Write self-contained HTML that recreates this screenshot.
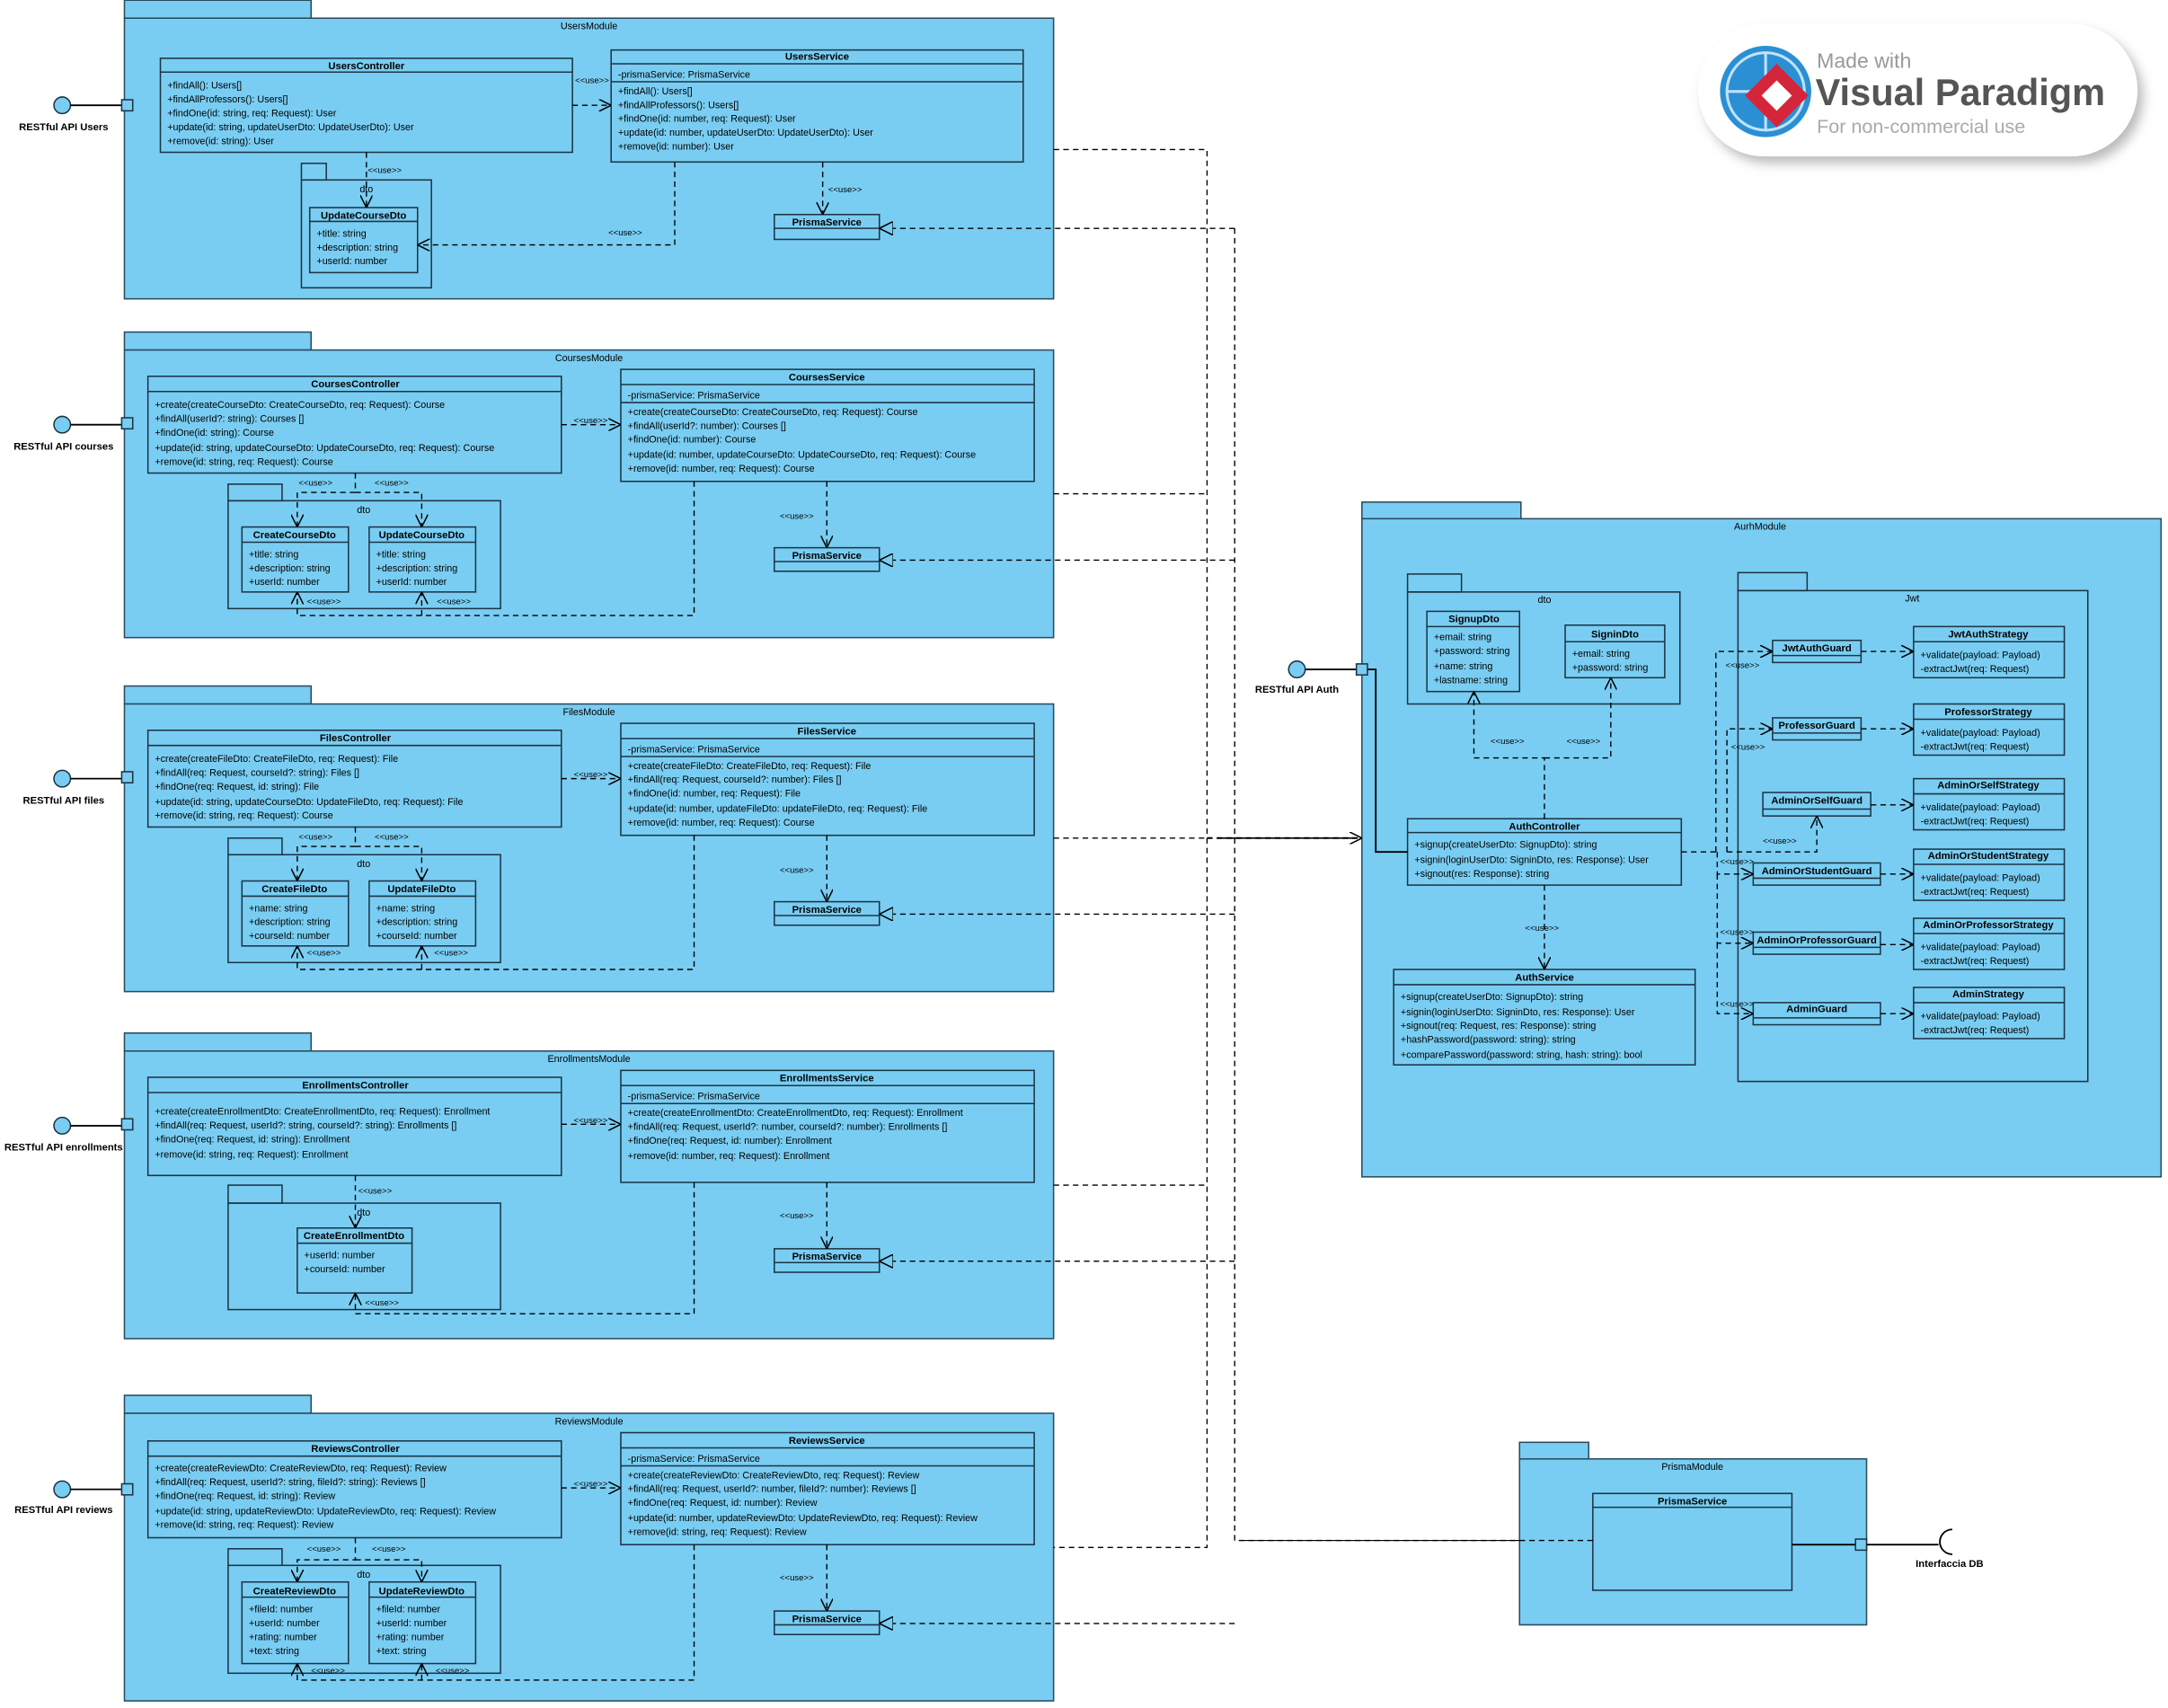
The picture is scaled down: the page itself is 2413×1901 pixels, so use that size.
<!DOCTYPE html>
<html><head><meta charset="utf-8"><style>
html,body{margin:0;padding:0;background:#fff;}
svg{display:block;}
text{font-family:"Liberation Sans",sans-serif;font-size:7px;fill:#000;}
.b{font-weight:bold;font-size:7.3px;}
.m{text-anchor:middle;}
.pk{fill:#79cdf2;stroke:#2a4a5e;stroke-width:1;}
.bx{fill:#79cdf2;stroke:#1d3444;stroke-width:1;}
.ln{stroke:#1d3444;stroke-width:1;fill:none;}
.d{stroke:#000;stroke-width:0.9;fill:none;stroke-dasharray:4,3;}
.s{stroke:#000;stroke-width:1.2;fill:none;}
.u{font-size:6.2px;}
</style></head><body>
<svg width="2413" height="1901" viewBox="0 0 1568 1235" xmlns="http://www.w3.org/2000/svg">
<defs>
<marker id="oa" viewBox="0 0 10 10" refX="10" refY="5" markerWidth="9" markerHeight="9" orient="auto" markerUnits="userSpaceOnUse"><path d="M0,0L10,5L0,10" fill="none" stroke="#000" stroke-width="1.1"/></marker>
<marker id="tri" viewBox="0 0 10 10" refX="10" refY="5" markerWidth="10" markerHeight="10" orient="auto" markerUnits="userSpaceOnUse"><path d="M0,0L10,5L0,10z" fill="#79cdf2" stroke="#000" stroke-width="1"/></marker>
<filter id="sh" x="-10%" y="-10%" width="120%" height="130%"><feGaussianBlur stdDeviation="4"/></filter>
</defs>

<!-- ========== USERS MODULE ========== -->
<rect class="pk" x="90" y="0" width="135" height="13"/>
<rect class="pk" x="90" y="13" width="672" height="203"/>
<text class="m" x="426" y="21">UsersModule</text>
<rect class="bx" x="116" y="42" width="298" height="68"/><line class="ln" x1="116" y1="52" x2="414" y2="52"/>
<text class="b m" x="265" y="50">UsersController</text>
<text x="121" y="64">+findAll(): Users[]</text>
<text x="121" y="74">+findAllProfessors(): Users[]</text>
<text x="121" y="84">+findOne(id: string, req: Request): User</text>
<text x="121" y="94">+update(id: string, updateUserDto: UpdateUserDto): User</text>
<text x="121" y="104">+remove(id: string): User</text>
<rect class="bx" x="442" y="36" width="298" height="81"/><line class="ln" x1="442" y1="46" x2="740" y2="46"/><line class="ln" x1="442" y1="59" x2="740" y2="59"/>
<text class="b m" x="591" y="43">UsersService</text>
<text x="447" y="56">-prismaService: PrismaService</text>
<text x="447" y="68">+findAll(): Users[]</text>
<text x="447" y="78">+findAllProfessors(): Users[]</text>
<text x="447" y="88">+findOne(id: number, req: Request): User</text>
<text x="447" y="98">+update(id: number, updateUserDto: UpdateUserDto): User</text>
<text x="447" y="108">+remove(id: number): User</text>
<rect class="ln" x="218" y="118" width="18" height="12"/>
<rect class="ln" x="218" y="130" width="94" height="78"/>
<text class="m" x="265" y="139">dto</text>
<rect class="bx" x="224" y="150" width="78" height="47"/><line class="ln" x1="224" y1="160" x2="302" y2="160"/>
<text class="b m" x="263" y="158">UpdateCourseDto</text>
<text x="229" y="171">+title: string</text>
<text x="229" y="181">+description: string</text>
<text x="229" y="191">+userId: number</text>
<rect class="bx" x="560" y="155" width="76" height="18"/><line class="ln" x1="560" y1="165" x2="636" y2="165"/>
<text class="b m" x="598" y="163">PrismaService</text>
<path class="d" d="M414,76H442" marker-end="url(#oa)"/><text class="u" x="416" y="60">&lt;&lt;use&gt;&gt;</text>
<path class="d" d="M265,110V150" marker-end="url(#oa)"/><text class="u" x="266" y="125">&lt;&lt;use&gt;&gt;</text>
<path class="d" d="M488,117V177H302" marker-end="url(#oa)"/><text class="u" x="440" y="170">&lt;&lt;use&gt;&gt;</text>
<path class="d" d="M595,117V155" marker-end="url(#oa)"/><text class="u" x="599" y="139">&lt;&lt;use&gt;&gt;</text>
<circle cx="45" cy="76" r="6" fill="#79cdf2" stroke="#1d3444"/>
<line class="s" x1="51" y1="76" x2="88" y2="76"/><rect class="bx" x="88" y="72" width="8" height="8"/>
<text class="b m" x="46" y="94">RESTful API Users</text>

<!-- ========== COURSES MODULE ========== -->
<g>
<rect class="pk" x="90" y="240" width="135" height="13"/>
<rect class="pk" x="90" y="253" width="672" height="208"/>
<text class="m" x="426" y="261">CoursesModule</text>
<rect class="bx" x="107" y="272" width="299" height="70"/><line class="ln" x1="107" y1="283" x2="406" y2="283"/>
<text class="b m" x="257" y="280">CoursesController</text>
<text x="112" y="295">+create(createCourseDto: CreateCourseDto, req: Request): Course</text>
<text x="112" y="305">+findAll(userId?: string): Courses []</text>
<text x="112" y="315">+findOne(id: string): Course</text>
<text x="112" y="326">+update(id: string, updateCourseDto: UpdateCourseDto, req: Request): Course</text>
<text x="112" y="336">+remove(id: string, req: Request): Course</text>
<rect class="bx" x="449" y="267" width="299" height="81"/><line class="ln" x1="449" y1="278" x2="748" y2="278"/><line class="ln" x1="449" y1="291" x2="748" y2="291"/>
<text class="b m" x="598" y="275">CoursesService</text>
<text x="454" y="288">-prismaService: PrismaService</text>
<text x="454" y="300">+create(createCourseDto: CreateCourseDto, req: Request): Course</text>
<text x="454" y="310">+findAll(userId?: number): Courses []</text>
<text x="454" y="320">+findOne(id: number): Course</text>
<text x="454" y="331">+update(id: number, updateCourseDto: UpdateCourseDto, req: Request): Course</text>
<text x="454" y="341">+remove(id: number, req: Request): Course</text>
<rect class="ln" x="165" y="350" width="39" height="12"/>
<rect class="ln" x="165" y="362" width="197" height="78"/>
<text class="m" x="263" y="371">dto</text>
<rect class="bx" x="175" y="381" width="77" height="47"/><line class="ln" x1="175" y1="392" x2="252" y2="392"/>
<text class="b m" x="213" y="389">CreateCourseDto</text>
<text x="180" y="403">+title: string</text><text x="180" y="413">+description: string</text><text x="180" y="423">+userId: number</text>
<rect class="bx" x="267" y="381" width="77" height="47"/><line class="ln" x1="267" y1="392" x2="344" y2="392"/>
<text class="b m" x="305" y="389">UpdateCourseDto</text>
<text x="272" y="403">+title: string</text><text x="272" y="413">+description: string</text><text x="272" y="423">+userId: number</text>
<rect class="bx" x="560" y="396" width="76" height="17"/><line class="ln" x1="560" y1="406" x2="636" y2="406"/>
<text class="b m" x="598" y="404">PrismaService</text>
<path class="d" d="M406,307H449" marker-end="url(#oa)"/><text class="u" x="415" y="306">&lt;&lt;use&gt;&gt;</text>
<path class="d" d="M257,342V356H215V381" marker-end="url(#oa)"/>
<path class="d" d="M257,356H305V381" marker-end="url(#oa)"/>
<text class="u" x="216" y="351">&lt;&lt;use&gt;&gt;</text><text class="u" x="271" y="351">&lt;&lt;use&gt;&gt;</text>
<path class="d" d="M502,348V445H215V428" marker-end="url(#oa)"/>
<path class="d" d="M305,445V428" marker-end="url(#oa)"/>
<text class="u" x="222" y="437">&lt;&lt;use&gt;&gt;</text><text class="u" x="316" y="437">&lt;&lt;use&gt;&gt;</text>
<path class="d" d="M598,348V396" marker-end="url(#oa)"/><text class="u" x="564" y="375">&lt;&lt;use&gt;&gt;</text>
<circle cx="45" cy="307" r="6" fill="#79cdf2" stroke="#1d3444"/>
<line class="s" x1="51" y1="307" x2="88" y2="307"/><rect class="bx" x="88" y="302" width="8" height="8"/>
<text class="b m" x="46" y="325">RESTful API courses</text>
</g>

<!-- ========== FILES MODULE ========== -->
<g transform="translate(0,256)">
<rect class="pk" x="90" y="240" width="135" height="13"/>
<rect class="pk" x="90" y="253" width="672" height="208"/>
<text class="m" x="426" y="261">FilesModule</text>
<rect class="bx" x="107" y="272" width="299" height="70"/><line class="ln" x1="107" y1="283" x2="406" y2="283"/>
<text class="b m" x="257" y="280">FilesController</text>
<text x="112" y="295">+create(createFileDto: CreateFileDto, req: Request): File</text>
<text x="112" y="305">+findAll(req: Request, courseId?: string): Files []</text>
<text x="112" y="315">+findOne(req: Request, id: string): File</text>
<text x="112" y="326">+update(id: string, updateCourseDto: UpdateFileDto, req: Request): File</text>
<text x="112" y="336">+remove(id: string, req: Request): Course</text>
<rect class="bx" x="449" y="267" width="299" height="81"/><line class="ln" x1="449" y1="278" x2="748" y2="278"/><line class="ln" x1="449" y1="291" x2="748" y2="291"/>
<text class="b m" x="598" y="275">FilesService</text>
<text x="454" y="288">-prismaService: PrismaService</text>
<text x="454" y="300">+create(createFileDto: CreateFileDto, req: Request): File</text>
<text x="454" y="310">+findAll(req: Request, courseId?: number): Files []</text>
<text x="454" y="320">+findOne(id: number, req: Request): File</text>
<text x="454" y="331">+update(id: number, updateFileDto: updateFileDto, req: Request): File</text>
<text x="454" y="341">+remove(id: number, req: Request): Course</text>
<rect class="ln" x="165" y="350" width="39" height="12"/>
<rect class="ln" x="165" y="362" width="197" height="78"/>
<text class="m" x="263" y="371">dto</text>
<rect class="bx" x="175" y="381" width="77" height="47"/><line class="ln" x1="175" y1="392" x2="252" y2="392"/>
<text class="b m" x="213" y="389">CreateFileDto</text>
<text x="180" y="403">+name: string</text><text x="180" y="413">+description: string</text><text x="180" y="423">+courseId: number</text>
<rect class="bx" x="267" y="381" width="77" height="47"/><line class="ln" x1="267" y1="392" x2="344" y2="392"/>
<text class="b m" x="305" y="389">UpdateFileDto</text>
<text x="272" y="403">+name: string</text><text x="272" y="413">+description: string</text><text x="272" y="423">+courseId: number</text>
<rect class="bx" x="560" y="396" width="76" height="17"/><line class="ln" x1="560" y1="406" x2="636" y2="406"/>
<text class="b m" x="598" y="404">PrismaService</text>
<path class="d" d="M406,307H449" marker-end="url(#oa)"/><text class="u" x="415" y="306">&lt;&lt;use&gt;&gt;</text>
<path class="d" d="M257,342V356H215V381" marker-end="url(#oa)"/>
<path class="d" d="M257,356H305V381" marker-end="url(#oa)"/>
<text class="u" x="216" y="351">&lt;&lt;use&gt;&gt;</text><text class="u" x="271" y="351">&lt;&lt;use&gt;&gt;</text>
<path class="d" d="M502,348V445H215V428" marker-end="url(#oa)"/>
<path class="d" d="M305,445V428" marker-end="url(#oa)"/>
<text class="u" x="222" y="435">&lt;&lt;use&gt;&gt;</text><text class="u" x="314" y="435">&lt;&lt;use&gt;&gt;</text>
<path class="d" d="M598,348V396" marker-end="url(#oa)"/><text class="u" x="564" y="375">&lt;&lt;use&gt;&gt;</text>
<circle cx="45" cy="307" r="6" fill="#79cdf2" stroke="#1d3444"/>
<line class="s" x1="51" y1="307" x2="88" y2="307"/><rect class="bx" x="88" y="302" width="8" height="8"/>
<text class="b m" x="46" y="325">RESTful API files</text>
</g>

<!-- ========== ENROLLMENTS MODULE ========== -->
<g transform="translate(0,507)">
<rect class="pk" x="90" y="240" width="135" height="13"/>
<rect class="pk" x="90" y="253" width="672" height="208"/>
<text class="m" x="426" y="261">EnrollmentsModule</text>
<rect class="bx" x="107" y="272" width="299" height="71"/><line class="ln" x1="107" y1="283" x2="406" y2="283"/>
<text class="b m" x="257" y="280">EnrollmentsController</text>
<text x="112" y="299">+create(createEnrollmentDto: CreateEnrollmentDto, req: Request): Enrollment</text>
<text x="112" y="309">+findAll(req: Request, userId?: string, courseId?: string): Enrollments []</text>
<text x="112" y="319">+findOne(req: Request, id: string): Enrollment</text>
<text x="112" y="330">+remove(id: string, req: Request): Enrollment</text>
<rect class="bx" x="449" y="267" width="299" height="81"/><line class="ln" x1="449" y1="278" x2="748" y2="278"/><line class="ln" x1="449" y1="291" x2="748" y2="291"/>
<text class="b m" x="598" y="275">EnrollmentsService</text>
<text x="454" y="288">-prismaService: PrismaService</text>
<text x="454" y="300">+create(createEnrollmentDto: CreateEnrollmentDto, req: Request): Enrollment</text>
<text x="454" y="310">+findAll(req: Request, userId?: number, courseId?: number): Enrollments []</text>
<text x="454" y="320">+findOne(req: Request, id: number): Enrollment</text>
<text x="454" y="331">+remove(id: number, req: Request): Enrollment</text>
<rect class="ln" x="165" y="350" width="39" height="13"/>
<rect class="ln" x="165" y="363" width="197" height="77"/>
<text class="m" x="263" y="372">dto</text>
<rect class="bx" x="215" y="381" width="83" height="47"/><line class="ln" x1="215" y1="392" x2="298" y2="392"/>
<text class="b m" x="256" y="389">CreateEnrollmentDto</text>
<text x="220" y="403">+userId: number</text><text x="220" y="413">+courseId: number</text>
<rect class="bx" x="560" y="396" width="76" height="17"/><line class="ln" x1="560" y1="406" x2="636" y2="406"/>
<text class="b m" x="598" y="404">PrismaService</text>
<path class="d" d="M406,306H449" marker-end="url(#oa)"/><text class="u" x="415" y="305">&lt;&lt;use&gt;&gt;</text>
<path class="d" d="M257,343V381" marker-end="url(#oa)"/><text class="u" x="259" y="356">&lt;&lt;use&gt;&gt;</text>
<path class="d" d="M502,348V443H257V428" marker-end="url(#oa)"/><text class="u" x="264" y="437">&lt;&lt;use&gt;&gt;</text>
<path class="d" d="M598,348V396" marker-end="url(#oa)"/><text class="u" x="564" y="374">&lt;&lt;use&gt;&gt;</text>
<circle cx="45" cy="307" r="6" fill="#79cdf2" stroke="#1d3444"/>
<line class="s" x1="51" y1="307" x2="88" y2="307"/><rect class="bx" x="88" y="302" width="8" height="8"/>
<text class="b m" x="46" y="325">RESTful API enrollments</text>
</g>

<!-- ========== REVIEWS MODULE ========== -->
<g transform="translate(0,769)">
<rect class="pk" x="90" y="240" width="135" height="13"/>
<rect class="pk" x="90" y="253" width="672" height="208"/>
<text class="m" x="426" y="261">ReviewsModule</text>
<rect class="bx" x="107" y="273" width="299" height="70"/><line class="ln" x1="107" y1="284" x2="406" y2="284"/>
<text class="b m" x="257" y="281">ReviewsController</text>
<text x="112" y="295">+create(createReviewDto: CreateReviewDto, req: Request): Review</text>
<text x="112" y="305">+findAll(req: Request, userId?: string, fileId?: string): Reviews []</text>
<text x="112" y="315">+findOne(req: Request, id: string): Review</text>
<text x="112" y="326">+update(id: string, updateReviewDto: UpdateReviewDto, req: Request): Review</text>
<text x="112" y="336">+remove(id: string, req: Request): Review</text>
<rect class="bx" x="449" y="267" width="299" height="81"/><line class="ln" x1="449" y1="278" x2="748" y2="278"/><line class="ln" x1="449" y1="291" x2="748" y2="291"/>
<text class="b m" x="598" y="275">ReviewsService</text>
<text x="454" y="288">-prismaService: PrismaService</text>
<text x="454" y="300">+create(createReviewDto: CreateReviewDto, req: Request): Review</text>
<text x="454" y="310">+findAll(req: Request, userId?: number, fileId?: number): Reviews []</text>
<text x="454" y="320">+findOne(req: Request, id: number): Review</text>
<text x="454" y="331">+update(id: number, updateReviewDto: UpdateReviewDto, req: Request): Review</text>
<text x="454" y="341">+remove(id: string, req: Request): Review</text>
<rect class="ln" x="165" y="351" width="39" height="12"/>
<rect class="ln" x="165" y="363" width="197" height="78"/>
<text class="m" x="263" y="372">dto</text>
<rect class="bx" x="175" y="375" width="77" height="59"/><line class="ln" x1="175" y1="386" x2="252" y2="386"/>
<text class="b m" x="213" y="384">CreateReviewDto</text>
<text x="180" y="397">+fileId: number</text><text x="180" y="407">+userId: number</text><text x="180" y="417">+rating: number</text><text x="180" y="427">+text: string</text>
<rect class="bx" x="267" y="375" width="77" height="59"/><line class="ln" x1="267" y1="386" x2="344" y2="386"/>
<text class="b m" x="305" y="384">UpdateReviewDto</text>
<text x="272" y="397">+fileId: number</text><text x="272" y="407">+userId: number</text><text x="272" y="417">+rating: number</text><text x="272" y="427">+text: string</text>
<rect class="bx" x="560" y="396" width="76" height="17"/><line class="ln" x1="560" y1="406" x2="636" y2="406"/>
<text class="b m" x="598" y="404">PrismaService</text>
<path class="d" d="M406,307H449" marker-end="url(#oa)"/><text class="u" x="415" y="306">&lt;&lt;use&gt;&gt;</text>
<path class="d" d="M257,343V359H215V375" marker-end="url(#oa)"/>
<path class="d" d="M257,359H305V375" marker-end="url(#oa)"/>
<text class="u" x="222" y="353">&lt;&lt;use&gt;&gt;</text><text class="u" x="269" y="353">&lt;&lt;use&gt;&gt;</text>
<path class="d" d="M502,348V446H215V434" marker-end="url(#oa)"/>
<path class="d" d="M305,446V434" marker-end="url(#oa)"/>
<text class="u" x="225" y="441">&lt;&lt;use&gt;&gt;</text><text class="u" x="315" y="441">&lt;&lt;use&gt;&gt;</text>
<path class="d" d="M598,348V396" marker-end="url(#oa)"/><text class="u" x="564" y="374">&lt;&lt;use&gt;&gt;</text>
<circle cx="45" cy="308" r="6" fill="#79cdf2" stroke="#1d3444"/>
<line class="s" x1="51" y1="308" x2="88" y2="308"/><rect class="bx" x="88" y="304" width="8" height="8"/>
<text class="b m" x="46" y="325">RESTful API reviews</text>
</g>

<!-- ========== AUTH MODULE ========== -->
<rect class="pk" x="985" y="363" width="115" height="12"/>
<rect class="pk" x="985" y="375" width="578" height="476"/>
<text class="m" x="1273" y="383">AurhModule</text>
<rect class="ln" x="1018" y="415" width="39" height="13"/>
<rect class="ln" x="1018" y="428" width="197" height="81"/>
<text class="m" x="1117" y="436">dto</text>
<rect class="bx" x="1032" y="442" width="67" height="58"/><line class="ln" x1="1032" y1="453" x2="1099" y2="453"/>
<text class="b m" x="1066" y="450">SignupDto</text>
<text x="1037" y="463">+email: string</text><text x="1037" y="473">+password: string</text><text x="1037" y="484">+name: string</text><text x="1037" y="494">+lastname: string</text>
<rect class="bx" x="1132" y="452" width="72" height="38"/><line class="ln" x1="1132" y1="464" x2="1204" y2="464"/>
<text class="b m" x="1168" y="461">SigninDto</text>
<text x="1137" y="475">+email: string</text><text x="1137" y="485">+password: string</text>

<rect class="ln" x="1257" y="414" width="50" height="13"/>
<rect class="ln" x="1257" y="427" width="253" height="355"/>
<text class="m" x="1383" y="435">Jwt</text>

<rect class="bx" x="1018" y="592" width="198" height="48"/><line class="ln" x1="1018" y1="602" x2="1216" y2="602"/>
<text class="b m" x="1117" y="600">AuthController</text>
<text x="1023" y="613">+signup(createUserDto: SignupDto): string</text>
<text x="1023" y="624">+signin(loginUserDto: SigninDto, res: Response): User</text>
<text x="1023" y="634">+signout(res: Response): string</text>

<rect class="bx" x="1008" y="701" width="218" height="69"/><line class="ln" x1="1008" y1="712" x2="1226" y2="712"/>
<text class="b m" x="1117" y="709">AuthService</text>
<text x="1013" y="723">+signup(createUserDto: SignupDto): string</text>
<text x="1013" y="734">+signin(loginUserDto: SigninDto, res: Response): User</text>
<text x="1013" y="744">+signout(req: Request, res: Response): string</text>
<text x="1013" y="754">+hashPassword(password: string): string</text>
<text x="1013" y="765">+comparePassword(password: string, hash: string): bool</text>

<!-- guards -->
<rect class="bx" x="1282" y="463" width="64" height="16"/><line class="ln" x1="1282" y1="474" x2="1346" y2="474"/><text class="b m" x="1314" y="471">JwtAuthGuard</text>
<rect class="bx" x="1282" y="519" width="64" height="16"/><line class="ln" x1="1282" y1="530" x2="1346" y2="530"/><text class="b m" x="1314" y="527">ProfessorGuard</text>
<rect class="bx" x="1275" y="573" width="78" height="17"/><line class="ln" x1="1275" y1="585" x2="1353" y2="585"/><text class="b m" x="1314" y="581">AdminOrSelfGuard</text>
<rect class="bx" x="1268" y="624" width="92" height="16"/><line class="ln" x1="1268" y1="635" x2="1360" y2="635"/><text class="b m" x="1314" y="632">AdminOrStudentGuard</text>
<rect class="bx" x="1268" y="674" width="92" height="16"/><line class="ln" x1="1268" y1="685" x2="1360" y2="685"/><text class="b m" x="1314" y="682">AdminOrProfessorGuard</text>
<rect class="bx" x="1268" y="725" width="92" height="16"/><line class="ln" x1="1268" y1="736" x2="1360" y2="736"/><text class="b m" x="1314" y="732">AdminGuard</text>
<!-- strategies -->
<g>
<rect class="bx" x="1384" y="453" width="109" height="37"/><line class="ln" x1="1384" y1="464" x2="1493" y2="464"/><text class="b m" x="1438" y="461">JwtAuthStrategy</text>
<text x="1389" y="476">+validate(payload: Payload)</text><text x="1389" y="486">-extractJwt(req: Request)</text>
<rect class="bx" x="1384" y="509" width="109" height="37"/><line class="ln" x1="1384" y1="520" x2="1493" y2="520"/><text class="b m" x="1438" y="517">ProfessorStrategy</text>
<text x="1389" y="532">+validate(payload: Payload)</text><text x="1389" y="542">-extractJwt(req: Request)</text>
<rect class="bx" x="1384" y="563" width="109" height="37"/><line class="ln" x1="1384" y1="574" x2="1493" y2="574"/><text class="b m" x="1438" y="570">AdminOrSelfStrategy</text>
<text x="1389" y="586">+validate(payload: Payload)</text><text x="1389" y="596">-extractJwt(req: Request)</text>
<rect class="bx" x="1384" y="614" width="109" height="37"/><line class="ln" x1="1384" y1="625" x2="1493" y2="625"/><text class="b m" x="1438" y="621">AdminOrStudentStrategy</text>
<text x="1389" y="637">+validate(payload: Payload)</text><text x="1389" y="647">-extractJwt(req: Request)</text>
<rect class="bx" x="1384" y="664" width="109" height="37"/><line class="ln" x1="1384" y1="675" x2="1493" y2="675"/><text class="b m" x="1438" y="671">AdminOrProfessorStrategy</text>
<text x="1389" y="687">+validate(payload: Payload)</text><text x="1389" y="697">-extractJwt(req: Request)</text>
<rect class="bx" x="1384" y="714" width="109" height="37"/><line class="ln" x1="1384" y1="725" x2="1493" y2="725"/><text class="b m" x="1438" y="721">AdminStrategy</text>
<text x="1389" y="737">+validate(payload: Payload)</text><text x="1389" y="747">-extractJwt(req: Request)</text>
</g>
<!-- auth connectors -->
<path class="d" d="M1117,592V548H1066V500" marker-end="url(#oa)"/>
<path class="d" d="M1117,548H1165V490" marker-end="url(#oa)"/>
<text class="u" x="1078" y="538">&lt;&lt;use&gt;&gt;</text><text class="u" x="1133" y="538">&lt;&lt;use&gt;&gt;</text>
<path class="d" d="M1117,640V701" marker-end="url(#oa)"/><text class="u" x="1103" y="673">&lt;&lt;use&gt;&gt;</text>
<path class="d" d="M1216,616H1241"/>
<path class="d" d="M1241,616V471H1282" marker-end="url(#oa)"/>
<path class="d" d="M1249,616V527H1282" marker-end="url(#oa)"/>
<path class="d" d="M1249,616H1314V590" marker-end="url(#oa)"/>
<path class="d" d="M1242,616V632H1268" marker-end="url(#oa)"/>
<path class="d" d="M1242,632V682H1268" marker-end="url(#oa)"/>
<path class="d" d="M1242,682V733H1268" marker-end="url(#oa)"/>
<text class="u" x="1248" y="483">&lt;&lt;use&gt;&gt;</text>
<text class="u" x="1252" y="542">&lt;&lt;use&gt;&gt;</text>
<text class="u" x="1275" y="610">&lt;&lt;use&gt;&gt;</text>
<text class="u" x="1244" y="625">&lt;&lt;use&gt;&gt;</text>
<text class="u" x="1244" y="676">&lt;&lt;use&gt;&gt;</text>
<text class="u" x="1244" y="728">&lt;&lt;use&gt;&gt;</text>
<path class="d" d="M1346,471H1384" marker-end="url(#oa)"/>
<path class="d" d="M1346,527H1384" marker-end="url(#oa)"/>
<path class="d" d="M1353,582H1384" marker-end="url(#oa)"/>
<path class="d" d="M1360,632H1384" marker-end="url(#oa)"/>
<path class="d" d="M1360,683H1384" marker-end="url(#oa)"/>
<path class="d" d="M1360,733H1384" marker-end="url(#oa)"/>
<!-- auth interface -->
<circle cx="938" cy="484" r="6" fill="#79cdf2" stroke="#1d3444"/>
<line class="s" x1="944" y1="484" x2="981" y2="484"/><rect class="bx" x="981" y="480" width="8" height="8"/>
<path class="s" d="M989,484H995V616H1018"/>
<text class="b m" x="938" y="501">RESTful API Auth</text>

<!-- ========== PRISMA MODULE ========== -->
<rect class="pk" x="1099" y="1043" width="50" height="12"/>
<rect class="pk" x="1099" y="1055" width="251" height="120"/>
<text class="m" x="1224" y="1063">PrismaModule</text>
<rect class="bx" x="1152" y="1080" width="144" height="70"/><line class="ln" x1="1152" y1="1090" x2="1296" y2="1090"/>
<text class="b m" x="1224" y="1088">PrismaService</text>
<line class="s" x1="1296" y1="1117" x2="1342" y2="1117"/>
<rect class="bx" x="1342" y="1113" width="8" height="8"/>
<line class="s" x1="1350" y1="1117" x2="1402" y2="1117"/>
<path class="s" d="M1412,1106A8,8 0 0,0 1412,1124"/>
<text class="b m" x="1410" y="1133">Interfaccia DB</text>

<!-- ========== BUSES ========== -->
<path class="d" d="M762,108H873V1119H762"/>
<path class="d" d="M762,357H873"/>
<path class="d" d="M762,606H873"/>
<path class="d" d="M762,857H873"/>
<path class="d" d="M873,606H985" marker-end="url(#oa)" style="stroke-width:1.3"/>
<line x1="880" y1="606" x2="980" y2="606" stroke="#000" stroke-width="1"/>
<path class="d" d="M893,165V1114H1152"/>
<path class="d" d="M893,165H636" marker-end="url(#tri)"/>
<path class="d" d="M893,405H636" marker-end="url(#tri)"/>
<path class="d" d="M893,661H636" marker-end="url(#tri)"/>
<path class="d" d="M893,912H636" marker-end="url(#tri)"/>
<path class="d" d="M893,1174H636" marker-end="url(#tri)"/>
<line x1="896" y1="1114" x2="1100" y2="1114" stroke="#000" stroke-width="0.8"/>

<!-- ========== LOGO ========== -->
<rect x="1232" y="22" width="318" height="96" rx="48" fill="#bbb" filter="url(#sh)"/>
<rect x="1228" y="17" width="318" height="96" rx="48" fill="#fff"/>
<circle cx="1277" cy="66" r="33" fill="#2b8fd4"/>
<circle cx="1277" cy="66" r="28" fill="none" stroke="#bfe3fa" stroke-width="2"/>
<path d="M1249,66H1305M1277,38V94" stroke="#bfe3fa" stroke-width="2"/>
<path d="M1285,46L1308,69L1285,92L1262,69Z" fill="#d4253a"/>
<path d="M1285,58L1296,69L1285,80L1274,69Z" fill="#fff"/>
<text x="1314" y="49" style="font-size:15px;fill:#999">Made with</text>
<text x="1313" y="76" style="font-size:27px;font-weight:bold;fill:#555">Visual Paradigm</text>
<text x="1314" y="96" style="font-size:14px;fill:#aaa">For non-commercial use</text>
</svg>
</body></html>
